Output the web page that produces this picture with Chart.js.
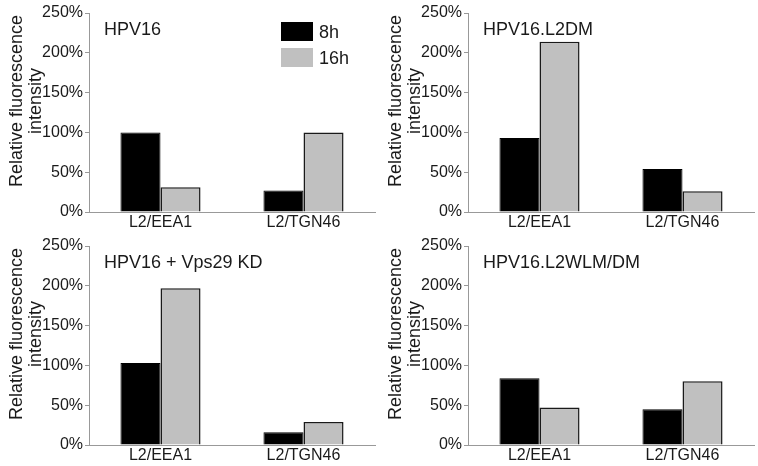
<!DOCTYPE html>
<html>
<head>
<meta charset="utf-8">
<script src="https://cdn.jsdelivr.net/npm/chart.js@4/dist/chart.umd.min.js"></script>
<style>
  body { margin: 0; background: #fff; }
  .grid { display: grid; grid-template-columns: 379px 379px; grid-template-rows: 233px 233px; width: 758px; height: 466px; }
  .cell { width: 379px; height: 233px; }
</style>
</head>
<body>
<div class="grid">
  <div class="cell"><canvas id="panel0" width="379" height="233"></canvas></div>
  <div class="cell"><canvas id="panel1" width="379" height="233"></canvas></div>
  <div class="cell"><canvas id="panel2" width="379" height="233"></canvas></div>
  <div class="cell"><canvas id="panel3" width="379" height="233"></canvas></div>
</div>
<script>
const categories = ['L2/EEA1', 'L2/TGN46'];
const seriesLabels = ['8h', '16h'];
const panelTitles = ['HPV16', 'HPV16.L2DM', 'HPV16 + Vps29 KD', 'HPV16.L2WLM/DM'];
const values8h = [[100, 27], [93, 54], [103, 16], [84, 45]];
const values16h = [[31, 100], [214, 26], [197, 29], [47, 80]];
const yTicks = [0, 50, 100, 150, 200, 250];
const yTitle = ['Relative fluorescence', 'intensity'];

const FONT = '"Liberation Sans", Arial, sans-serif';
const TEXT = '#1a1a1a';
const AXIS = '#999';
const GRAY = '#c0c0c0';

// panel label, y title and (first panel only) legend
const decorations = {
  id: 'decorations',
  afterDraw(chart, args, opts) {
    const ctx = chart.ctx;
    ctx.save();
    ctx.fillStyle = TEXT;
    ctx.font = '18px ' + FONT;
    ctx.textAlign = 'left';
    ctx.textBaseline = 'alphabetic';
    ctx.fillText(opts.title, 104, 35);

    ctx.save();
    ctx.translate(17, 101);
    ctx.rotate(-Math.PI / 2);
    ctx.textAlign = 'center';
    ctx.textBaseline = 'middle';
    ctx.fillText(yTitle[0], 0, 0);
    ctx.fillText(yTitle[1], 0, 19);
    ctx.restore();

    if (opts.legend) {
      chart.data.datasets.forEach((ds, i) => {
        const y = 22 + i * 26;
        ctx.fillStyle = ds.backgroundColor;
        ctx.fillRect(281, y, 32, 19);
        ctx.fillStyle = TEXT;
        ctx.fillText(ds.label, 319, y + 16);
      });
    }
    ctx.restore();
  }
};

function makePanel(i) {
  const ctx = document.getElementById('panel' + i).getContext('2d');
  new Chart(ctx, {
    type: 'bar',
    data: {
      labels: categories,
      datasets: [{
        label: seriesLabels[0],
        data: values8h[i],
        backgroundColor: '#000',
        borderColor: '#000',
        borderWidth: 1
      }, {
        label: seriesLabels[1],
        data: values16h[i],
        backgroundColor: GRAY,
        borderColor: '#1a1a1a',
        borderWidth: 1.5
      }]
    },
    options: {
      responsive: false,
      animation: false,
      categoryPercentage: 0.56,
      barPercentage: 1,
      layout: { padding: { left: 0, right: 4, top: 13, bottom: 0 } },
      plugins: {
        legend: { display: false },
        tooltip: { enabled: false },
        decorations: { title: panelTitles[i], legend: i === 0 }
      },
      scales: {
        x: {
          grid: { display: false, drawTicks: false },
          border: { color: AXIS, width: 1 },
          ticks: { color: TEXT, font: { family: FONT, size: 16 }, padding: 1 },
          afterFit: s => { s.height = 21; }
        },
        y: {
          min: 0,
          max: 250,
          afterBuildTicks: s => { s.ticks = yTicks.map(v => ({ value: v })); },
          grid: { drawOnChartArea: false, drawTicks: true, tickLength: 4, color: AXIS },
          border: { color: AXIS, width: 1 },
          ticks: { color: TEXT, font: { family: FONT, size: 16 }, padding: 2, callback: v => v + '%' },
          afterFit: s => { s.width = 89; }
        }
      }
    },
    plugins: [decorations]
  });
}

document.addEventListener('DOMContentLoaded', function () {
  for (let i = 0; i < 4; i++) makePanel(i);
});
</script>
</body>
</html>
